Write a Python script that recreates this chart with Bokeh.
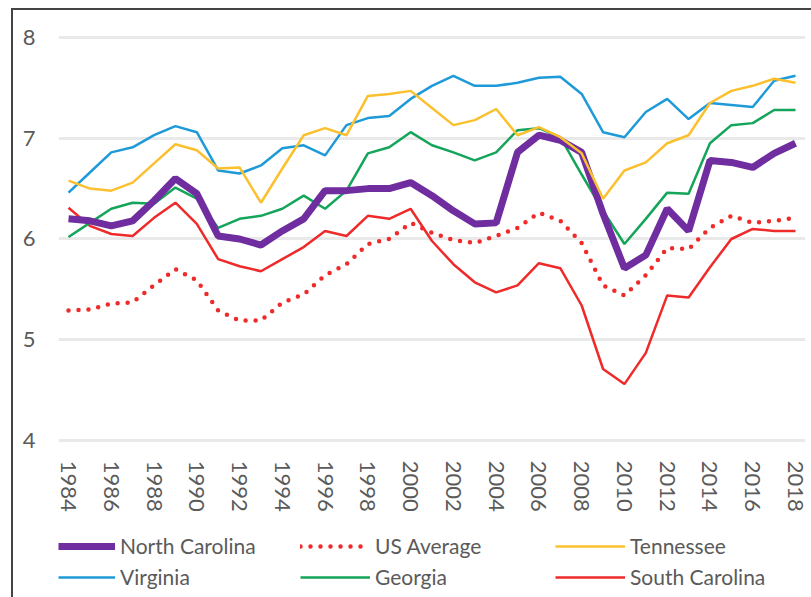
from bokeh.plotting import figure
from bokeh.models import FixedTicker, Legend, LegendItem, Range1d
from bokeh.core.properties import value
from bokeh.embed import file_html
from bokeh.resources import INLINE
import math

years = list(range(1984, 2019))

north_carolina = [6.20, 6.18, 6.13, 6.18, 6.38, 6.60, 6.45, 6.03, 6.00, 5.94, 6.08, 6.20,
                  6.48, 6.48, 6.50, 6.50, 6.56, 6.43, 6.28, 6.15, 6.16, 6.86, 7.03, 6.98,
                  6.86, 6.25, 5.71, 5.84, 6.30, 6.08, 6.78, 6.76, 6.71, 6.85, 6.95]
us_average = [5.29, 5.30, 5.36, 5.37, 5.54, 5.70, 5.59, 5.29, 5.19, 5.19, 5.37, 5.45,
              5.64, 5.75, 5.95, 6.00, 6.16, 6.06, 5.99, 5.96, 6.03, 6.11, 6.26, 6.18,
              5.96, 5.54, 5.44, 5.64, 5.91, 5.90, 6.11, 6.23, 6.16, 6.18, 6.21]
tennessee = [6.58, 6.50, 6.48, 6.56, 6.75, 6.94, 6.88, 6.70, 6.71, 6.36, 6.70, 7.03,
             7.10, 7.03, 7.42, 7.44, 7.47, 7.30, 7.13, 7.18, 7.29, 7.03, 7.11, 7.01,
             6.85, 6.40, 6.68, 6.76, 6.95, 7.03, 7.35, 7.47, 7.52, 7.59, 7.55]
virginia = [6.46, 6.66, 6.86, 6.91, 7.03, 7.12, 7.06, 6.68, 6.65, 6.73, 6.90, 6.93,
            6.83, 7.13, 7.20, 7.22, 7.39, 7.52, 7.62, 7.52, 7.52, 7.55, 7.60, 7.61,
            7.44, 7.06, 7.01, 7.26, 7.39, 7.19, 7.35, 7.33, 7.31, 7.57, 7.62]
georgia = [6.02, 6.16, 6.30, 6.36, 6.35, 6.51, 6.40, 6.11, 6.20, 6.23, 6.30, 6.43,
           6.30, 6.48, 6.85, 6.91, 7.06, 6.93, 6.86, 6.78, 6.86, 7.08, 7.10, 7.01,
           6.64, 6.28, 5.95, 6.20, 6.46, 6.45, 6.95, 7.13, 7.15, 7.28, 7.28]
south_carolina = [6.31, 6.13, 6.05, 6.03, 6.21, 6.36, 6.15, 5.80, 5.73, 5.68, 5.80, 5.92,
                  6.08, 6.03, 6.23, 6.20, 6.30, 5.98, 5.75, 5.57, 5.47, 5.54, 5.76, 5.71,
                  5.34, 4.71, 4.56, 4.87, 5.44, 5.42, 5.72, 6.00, 6.10, 6.08, 6.08]

x_ticks = list(range(1984, 2019, 2))
x_tick_labels = [str(t) for t in x_ticks]
y_ticks = [4, 5, 6, 7, 8]

FONT = "Lato"
TXT = "#5a5a5a"
TICK_LABEL_Y = 3.80   # where the rotated year labels start (below the 4 gridline)

p = figure(frame_width=747, frame_height=570, output_backend="svg", toolbar_location=None,
           x_range=Range1d(1983.532, 2018.468), y_range=Range1d(2.442, 8.099),
           min_border_left=45, min_border_right=6, min_border_top=17, min_border_bottom=0)
p.styles = {"border-top": "2px solid #444444", "border-left": "2px solid #444444",
            "margin-left": "11px", "margin-top": "8px"}
p.outline_line_color = None
p.background_fill_color = "white"

p.xgrid.grid_line_color = None
p.ygrid.grid_line_color = "#e9e9e9"
p.ygrid.grid_line_width = 3

p.xaxis.visible = False
p.yaxis.ticker = FixedTicker(ticks=y_ticks)
p.yaxis.axis_line_color = None
p.yaxis.major_tick_line_color = None
p.yaxis.minor_tick_line_color = None
p.yaxis.major_label_text_font = FONT
p.yaxis.major_label_text_font_size = "22px"
p.yaxis.major_label_text_color = TXT
p.yaxis.major_label_standoff = 17

# year tick labels, rotated to read downwards
p.text(x=x_ticks, y=[TICK_LABEL_Y] * len(x_ticks), text=x_tick_labels,
       angle=-math.pi / 2, text_align="left", text_baseline="middle",
       text_font=value(FONT), text_font_size="22px", text_color=TXT)

r_sc = p.line(years, south_carolina, line_color="#ee2a2a", line_width=2.5)
r_ga = p.line(years, georgia, line_color="#14a55a", line_width=2.5)
r_va = p.line(years, virginia, line_color="#1e9ad8", line_width=2.5)
r_nc = p.line(years, north_carolina, line_color="#6f2da0", line_width=7)
r_tn = p.line(years, tennessee, line_color="#fbc02d", line_width=2.5)
r_us = p.line(years, us_average, line_color="#ee2a2a", line_width=4.5,
              line_dash="0 10", line_cap="round")


def add_legend(items, xoff, glyph_w):
    lg = Legend(items=items, location=(xoff, 8), orientation="vertical",
                glyph_width=glyph_w, glyph_height=22, label_height=22, spacing=6,
                padding=0, margin=0, label_standoff=5,
                label_text_font=FONT, label_text_font_size="21px",
                label_text_color=TXT, background_fill_alpha=0,
                border_line_color=None)
    p.add_layout(lg, "center")


add_legend([LegendItem(label="North Carolina", renderers=[r_nc]),
            LegendItem(label="Virginia", renderers=[r_va])], 0, 57)
add_legend([LegendItem(label="US Average", renderers=[r_us]),
            LegendItem(label="Georgia", renderers=[r_ga])], 242, 70)
add_legend([LegendItem(label="Tennessee", renderers=[r_tn]),
            LegendItem(label="South Carolina", renderers=[r_sc])], 497, 70)

open("out.html", "w").write(file_html(p, INLINE))
